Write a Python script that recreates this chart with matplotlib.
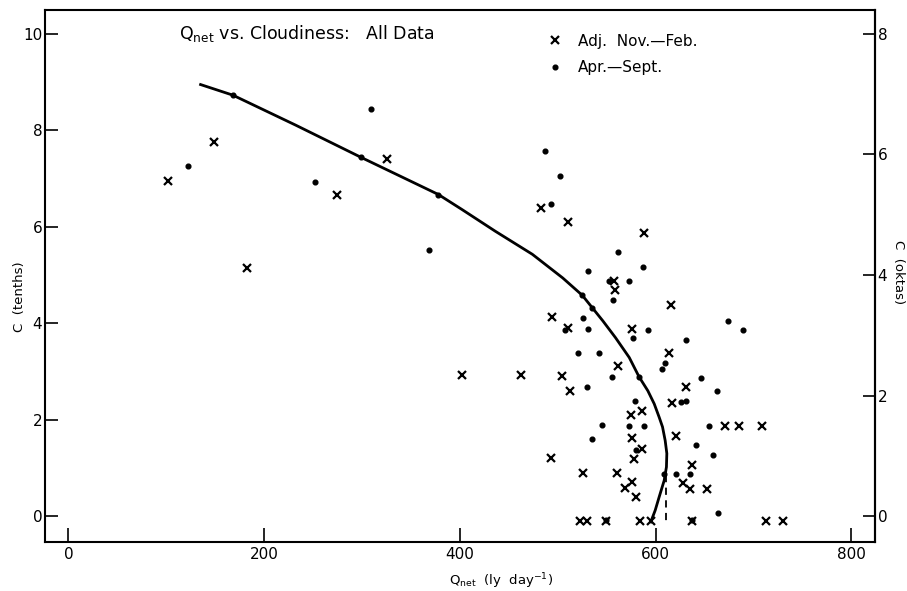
import matplotlib
matplotlib.use("Agg")
import matplotlib.pyplot as plt

plt.rcParams['font.family'] = ['DejaVu Sans']
plt.rcParams['mathtext.default'] = 'regular'

# --- data ---
# Adj. Nov.-Feb. (crosses)
nov_q = [149, 102, 274, 325, 182, 483, 510, 588, 557, 558, 616, 494, 510, 576,
         614, 562, 402, 462, 504, 631, 512, 617, 575, 586, 621, 671, 685, 709,
         576, 586, 578, 493, 637, 526, 560, 628, 635, 652, 576, 569, 580,
         523, 530, 549, 584, 595, 637, 713, 730]
nov_c = [7.75, 6.96, 6.65, 7.41, 5.15, 6.38, 6.10, 5.88, 4.88, 4.69, 4.37, 4.12,
         3.90, 3.89, 3.38, 3.11, 2.93, 2.93, 2.90, 2.68, 2.60, 2.35, 2.10, 2.19,
         1.67, 1.86, 1.86, 1.87, 1.63, 1.40, 1.19, 1.21, 1.07, 0.89, 0.89, 0.68,
         0.57, 0.56, 0.70, 0.59, 0.39,
         -0.1, -0.1, -0.1, -0.1, -0.1, -0.1, -0.1, -0.1]

# Apr.-Sept. (dots)
apr_q = [168, 309, 122, 252, 299, 378, 368, 487, 502, 493, 562, 587, 531, 552,
         573, 556, 525, 535, 526, 507, 531, 577, 592, 631, 521, 542, 610, 606,
         555, 583, 646, 663, 530, 579, 626, 631, 545, 573, 588, 654, 535, 580,
         641, 659, 608, 621, 635, 664, 549, 637, 674, 689]
apr_c = [8.73, 8.44, 7.27, 6.93, 7.44, 6.67, 5.52, 7.58, 7.05, 6.47, 5.48, 5.17,
         5.08, 4.88, 4.88, 4.48, 4.58, 4.32, 4.10, 3.85, 3.88, 3.69, 3.86, 3.66,
         3.39, 3.38, 3.18, 3.06, 2.89, 2.89, 2.87, 2.59, 2.67, 2.39, 2.36, 2.38,
         1.89, 1.87, 1.87, 1.87, 1.61, 1.38, 1.47, 1.27, 0.88, 0.88, 0.87, 0.07,
         -0.08, -0.08, 4.05, 3.86]

# fitted curve
curve_q = [135, 168, 232, 299, 378, 402, 436, 474, 505, 525, 546, 559, 573,
           583, 592, 598.5, 603.6, 607, 609.7, 611.4, 611, 608.7, 603.6,
           599.5, 595]
curve_c = [8.95, 8.73, 8.11, 7.44, 6.67, 6.36, 5.91, 5.43, 4.94, 4.58, 4.05,
           3.70, 3.29, 2.89, 2.60, 2.33, 2.05, 1.85, 1.57, 1.30, 1.02, 0.74,
           0.40, 0.12, -0.12]

# dashed extension
dash_q = [611, 611]
dash_c = [0.85, -0.15]

xticks = [0, 200, 400, 600, 800]
yticks = [0, 2, 4, 6, 8, 10]
okta_ticks = [0, 2, 4, 6, 8]

fig = plt.figure(figsize=(9.07, 5.91), dpi=100)
ax = fig.add_axes([0.0496, 0.0834, 0.915, 0.9])

ax.plot(curve_q, curve_c, color='black', lw=2.0, solid_joinstyle='round')
ax.plot(dash_q, dash_c, color='black', lw=1.3, ls=(0, (4, 3)))
ax.plot(nov_q, nov_c, ls='none', marker='x', ms=6, mew=1.6, color='black',
        label='Adj.  Nov.\u2014Feb.')
ax.plot(apr_q, apr_c, ls='none', marker='o', ms=3.4, color='black',
        label='Apr.\u2014Sept.')

ax.set_xlim(-24, 824)
ax.set_ylim(-0.53, 10.5)
ax.set_xticks(xticks)
ax.set_yticks(yticks)
ax.tick_params(axis='x', direction='in', length=10, width=1.2, labelsize=11, pad=4)
ax.tick_params(axis='y', direction='in', length=9, width=1.2, labelsize=11, pad=2)
for s in ax.spines.values():
    s.set_linewidth(1.5)

ax.set_xlabel(r'Q$_{net}$  (ly  day$^{-1}$)', fontsize=9.5)
ax.xaxis.set_label_coords(0.55, -0.055)
ax.set_ylabel('C  (tenths)', fontsize=9.5)
ax.yaxis.set_label_coords(-0.023, 0.46)

sec = ax.secondary_yaxis('right', functions=(lambda c: c * 0.8, lambda o: o / 0.8))
sec.set_yticks(okta_ticks)
sec.tick_params(direction='in', length=9, width=1.2, labelsize=11, pad=2)
sec.spines['right'].set_linewidth(1.5)
sec.set_ylabel('C  (oktas)', fontsize=9.5, rotation=-90, va='center')
sec.yaxis.set_label_coords(1.028, 0.507, transform=ax.transAxes)

ax.text(113, 10.0, r'Q$_{net}$ vs. Cloudiness:   All Data', fontsize=12.5,
        va='center', ha='left')

ax.legend(loc='upper left', bbox_to_anchor=(0.605, 0.955), frameon=False,
          fontsize=11, handlelength=1.0, handletextpad=1.0, labelspacing=0.75,
          borderpad=0, borderaxespad=0)

fig.savefig('out.png', dpi=100)
